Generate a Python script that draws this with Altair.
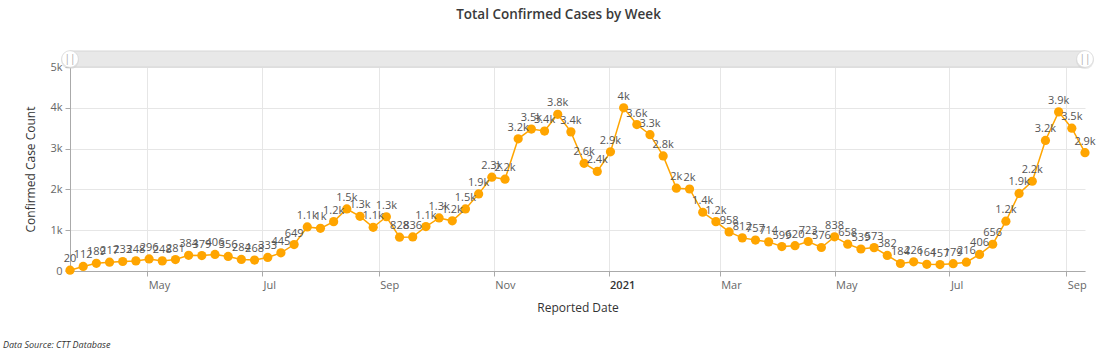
import altair as alt
import pandas as pd

# ---- data ----
first_week = "2020-03-21"   # weekly points (week ending Saturday)
cases = [20, 112, 189, 217, 233, 248, 296, 248, 281, 384, 379, 406, 356, 284, 268, 333, 445, 649,
         1080, 1045, 1210, 1520, 1340, 1070, 1330, 828, 836, 1090, 1300, 1230, 1520, 1890, 2300, 2250,
         3240, 3480, 3430, 3840, 3410, 2640, 2440, 2920, 4000, 3590, 3340, 2820, 2030, 2010, 1440, 1210,
         958, 812, 757, 714, 599, 620,
         723, 576, 838, 658, 539, 573, 382, 184, 226, 164, 157, 179, 216, 406, 656, 1220, 1900, 2200,
         3200, 3900, 3500, 2900]
x_tick_dates = ["2020-05-01", "2020-07-01", "2020-09-01", "2020-11-01", "2021-01-01",
                "2021-03-01", "2021-05-01", "2021-07-01", "2021-09-01"]
y_ticks = [0, 1000, 2000, 3000, 4000, 5000]

title_text = "Total Confirmed Cases by Week"
x_title = "Reported Date"
y_title = "Confirmed Case Count"
source_note = "Data Source: CTT Database"

FONT = "Open Sans"
ORANGE = "#FFA500"


def fmt(v):
    if v >= 1000:
        s = f"{v / 1000:.1f}".rstrip("0").rstrip(".")
        return s + "k"
    return str(v)


dates = pd.date_range(first_week, periods=len(cases), freq="7D")
df = pd.DataFrame({"date": dates.strftime("%Y-%m-%d"), "cases": cases,
                   "label": [fmt(v) for v in cases]})

W, H = 1015, 204

tick_vals = [alt.DateTime(year=int(d[:4]), month=int(d[5:7]), date=int(d[8:])) for d in x_tick_dates]

x_enc = alt.X("date:T", title=x_title,
              scale=alt.Scale(domain=[df["date"].iloc[0], df["date"].iloc[-1]]),
              axis=alt.Axis(values=tick_vals,
                            labelExpr="month(datum.value) == 0 ? timeFormat(datum.value, '%Y') : timeFormat(datum.value, '%b')",
                            labelFontWeight={"condition": {"test": "month(datum.value) == 0", "value": 600},
                                             "value": "normal"},
                            labelColor={"condition": {"test": "month(datum.value) == 0", "value": "#333"},
                                        "value": "#666"},
                            labelAlign="left", labelOffset=1,
                            titlePadding=12))
y_enc = alt.Y("cases:Q", title=y_title,
              scale=alt.Scale(domain=[0, 5000], nice=False),
              axis=alt.Axis(values=y_ticks,
                            labelExpr="datum.value == 0 ? '0' : (datum.value / 1000) + 'k'",
                            titlePadding=12))

base = alt.Chart(df)
line = base.mark_line(color=ORANGE, strokeWidth=1.5).encode(x=x_enc, y=y_enc)
pts = base.mark_circle(color=ORANGE, size=85, opacity=1).encode(x="date:T", y="cases:Q")
labels = base.mark_text(dy=-11, fontSize=11, color="#555", font=FONT).encode(
    x="date:T", y="cases:Q", text="label:N")

one = pd.DataFrame({"k": [0]})
deco = alt.Chart(one)
slider = deco.mark_rect(fill="#e8e8e8", stroke="#d6d6d6", strokeWidth=1).encode(
    x=alt.value(0), x2=alt.value(W), y=alt.value(-16), y2=alt.value(0))
hdf = pd.DataFrame({"hx": [0, W]})
handle_shadow = alt.Chart(hdf).mark_point(
    shape="circle", size=330, filled=True, fill="#cfcfcf", opacity=0.5
).encode(x=alt.X("hx:Q", scale=None), y=alt.value(-7))
handles = alt.Chart(hdf).mark_point(
    shape="circle", size=280, filled=True, fill="white", stroke="#d8d8d8", strokeWidth=0.8, opacity=1
).encode(x=alt.X("hx:Q", scale=None), y=alt.value(-8))
handle_txt = alt.Chart(hdf).mark_text(
    text="||", fontSize=10, color="#aaa", font=FONT, baseline="middle"
).encode(x=alt.X("hx:Q", scale=None), y=alt.value(-8))
note = deco.mark_text(text=source_note, fontSize=9, fontStyle="italic", color="#333",
                      font=FONT, align="left", baseline="middle").encode(
    x=alt.value(-67), y=alt.value(278))

chart = alt.layer(line, pts, labels, slider, handle_shadow, handles, handle_txt, note).properties(
    width=W, height=H,
    autosize=alt.AutoSizeParams(type="none"),
    padding={"left": 70, "top": 67, "right": 32, "bottom": 81},
    title=alt.TitleParams(title_text, fontSize=13.5, font=FONT, fontWeight=600,
                          color="#3a3a3a", offset=28, dx=-19),
).configure_view(stroke=None).configure_axis(
    labelFont=FONT, labelFontSize=11, labelColor="#666",
    titleFont=FONT, titleFontSize=12, titleColor="#333", titleFontWeight=500,
    domainColor="#aaa", tickColor="#aaa", tickSize=5, labelPadding=3,
    gridColor="#e6e6e6", grid=True,
)

chart.save("out.html", embed_options={"renderer": "svg", "actions": False})
